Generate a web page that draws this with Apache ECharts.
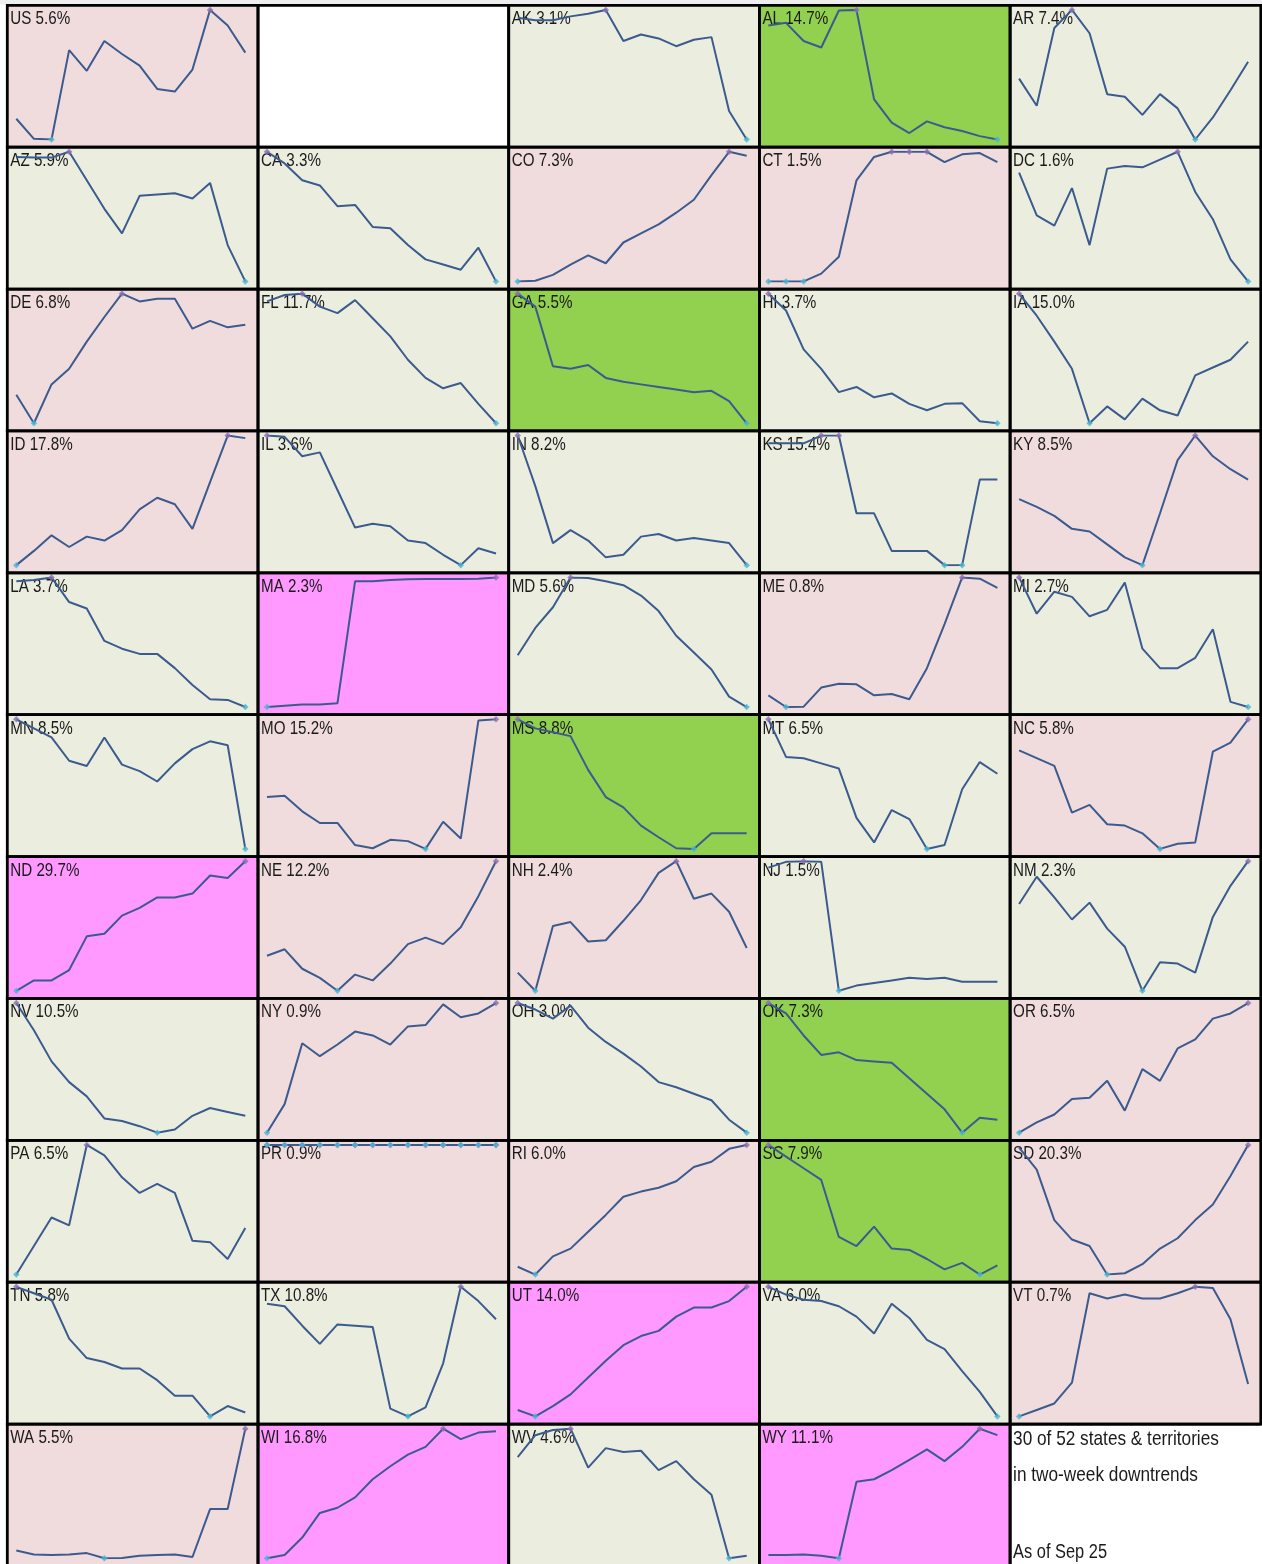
<!DOCTYPE html>
<html><head><meta charset="utf-8">
<script src="https://cdn.jsdelivr.net/npm/echarts@6/dist/echarts.min.js"></script>
<style>html,body{margin:0;padding:0;background:#fff}#c{width:1262px;height:1564px}</style>
</head><body><div id="c"></div><script>
// 14 daily points, two-week window ending Sep 25 (values normalised to each state's own range)
const days = ['Sep 12','Sep 13','Sep 14','Sep 15','Sep 16','Sep 17','Sep 18','Sep 19','Sep 20','Sep 21','Sep 22','Sep 23','Sep 24','Sep 25'];

const US = [16, 0.5, 0, 69, 53, 76, 66, 57, 39, 37, 54, 100, 88, 67];
const AK = [94, 92, 92, 95, 97, 100, 76, 81, 78, 72, 77, 79, 22, 0];
const AL = [88, 90, 76, 71, 99.5, 100, 31, 13, 5, 14, 9.5, 6.5, 2.6, 0];
const AR = [47, 26, 86, 100, 82, 35, 33, 19, 35, 24, 0, 17, 38, 60];
const AZ = [96, 95.5, 95.5, 100, 78, 56, 37, 66, 67, 68, 64, 76, 28, 0];
const CA = [100, 91, 78, 74, 58, 59, 42, 41, 28, 17, 13, 9, 26, 0];
const CO = [0, 0.5, 5, 13, 20, 14, 30, 37, 44, 53, 63, 82, 100, 97];
const CT = [0, 0, 0, 6, 19, 78, 96, 100, 100, 100, 92, 98, 99, 92];
const DC = [84, 51, 43, 72, 28, 87, 89, 88, 94, 100, 69, 48, 17, 0];
const DE = [22, 0, 30, 42, 63, 82, 100, 94, 96, 96, 73, 79, 74, 76];
const FL = [94, 99, 100, 90, 85, 95, 81, 67, 49, 35, 27, 31, 15, 0];
const GA = [100, 90, 44, 42, 45, 35, 32, 30, 28, 26, 24, 25, 17, 0];
const HI = [100, 87, 57, 42, 24, 28, 20, 23, 15, 10, 15, 15.5, 1.5, 0];
const IA = [100, 83, 63, 42, 0, 13, 3, 19, 10, 6, 37, 43, 49, 63];
const ID = [0, 11, 23, 14, 22, 19, 27, 43, 52, 47, 28, 64, 100, 98];
const IL = [100, 99, 84, 87, 58, 29, 32, 30, 19, 17, 8, 0, 13, 9];
const IN = [100, 61, 17, 27, 19, 6, 8, 22, 24, 19, 21, 19, 17, 0];
const KS = [94, 94, 94, 100, 100, 40, 40, 11, 11, 11, 0, 0, 66, 66];
const KY = [51, 45, 38, 28, 26, 16, 6, 0, 40, 81, 100, 84, 74, 66];
const LA = [97, 98, 100, 81, 76, 51, 45, 41, 41, 30, 17, 6, 5.5, 0];
const MA = [0, 1, 2, 2, 3, 97, 97, 98, 98.5, 98.7, 98.7, 98.7, 99, 100];
const MD = [40, 61, 77, 100, 99.5, 97, 94, 86, 74, 55, 42, 29, 8, 0];
const ME = [9, 0, 0.3, 15, 18, 17.5, 9, 10, 6, 30, 64, 100, 99, 92];
const MI = [100, 72, 89, 85, 70, 75, 96, 45, 30, 30, 38, 60, 4, 0];
const MN = [100, 93, 86, 68, 64, 86, 65, 60, 52, 66, 77, 83, 80, 0];
const MO = [40, 41, 29, 20, 20, 3, 0.5, 7, 6, 0, 21, 8, 99, 100];
const MS = [100, 93, 90, 87, 61, 40, 32, 18, 9, 0.5, 0, 12, 12, 12];
const MT = [100, 71, 70, 66, 62, 24, 5, 30, 23, 0, 3, 46, 67, 58];
const NC = [76, 70, 64, 28, 34, 19, 18, 12, 0, 4, 5, 75, 82, 100];
const ND = [0, 8, 8, 16, 42, 44, 58, 64, 72, 72, 75, 89, 87, 100];
const NE = [27, 32, 17, 10, 0, 12.5, 8, 21, 36, 41, 36, 49, 73, 100];
const NH = [14, 0, 50, 53, 38, 39, 54, 70, 91, 100, 71, 75, 61, 33];
const NJ = [95, 99.5, 100, 99.5, 0, 4, 6, 8, 10, 9, 10, 7, 7, 7];
const NM = [67, 88, 72, 55, 68, 48, 34, 0, 22, 21, 14, 57, 81, 100];
const NV = [100, 79, 55, 39, 28, 11, 9, 5, 0, 2.5, 13, 19, 16, 13];
const NY = [0, 22, 69, 59, 68, 78, 75, 68, 82, 83, 99, 89, 92, 100];
const OH = [100, 95, 88, 98, 81, 70, 61, 51, 39, 35, 30, 25, 10, 0];
const OK = [100, 92, 75, 60, 62, 56, 55, 54, 42, 30, 18, 0, 11.5, 10];
const OR = [0, 8, 14, 26, 27, 40, 17, 49, 40, 65, 72, 88, 92, 100];
const PA = [0, 22, 44, 38, 100, 92, 75, 63, 70, 63, 26, 25, 12, 36];
const PR = [0.9, 0.9, 0.9, 0.9, 0.9, 0.9, 0.9, 0.9, 0.9, 0.9, 0.9, 0.9, 0.9, 0.9];
const RI = [6, 0, 14, 20, 33, 46, 60, 64, 67, 72, 83, 87, 97, 100];
const SC = [100, 91, 82, 73, 29, 22, 37, 20, 19, 12, 4, 9, 0, 7];
const SD = [98, 81, 42, 27, 22, 0, 1, 8, 20, 28, 42, 54, 76, 100];
const TN = [100, 95, 90, 60, 45, 42, 37, 37, 28, 16, 16, 0, 8, 3];
const TX = [87, 85, 70, 56, 71, 70, 69, 6, 0, 7, 41, 100, 89, 75];
const UT = [5, 0, 8, 17, 30, 43, 55, 62, 66, 77, 84, 84, 89, 100];
const VA = [100, 94, 90, 89, 85, 77, 64, 87, 76, 59, 52, 35, 19, 0];
const VT = [0, 5, 10, 26, 95, 91, 94, 91, 91, 95, 100, 99, 75, 25];
const WA = [6, 3, 2.5, 3, 4, 0, 0.3, 2, 2.5, 3, 1, 38, 38, 100];
const WI = [0, 2.5, 16, 35, 39, 47, 61, 71, 80, 86, 100, 92, 97, 98];
const WV = [78, 95, 99, 100, 70, 85, 82, 83, 68, 75, 61, 49, 0, 2];
const WY = [2.5, 2.5, 3, 2, 0, 59, 61, 68, 76, 84, 75, 86, 100, 95];

// grid order (5 columns); '' = empty cell, 'NOTE' = caption cell
const order = ['US','','AK','AL','AR','AZ','CA','CO','CT','DC','DE','FL','GA','HI','IA','ID','IL','IN','KS','KY',
  'LA','MA','MD','ME','MI','MN','MO','MS','MT','NC','ND','NE','NH','NJ','NM','NV','NY','OH','OK','OR',
  'PA','PR','RI','SC','SD','TN','TX','UT','VA','VT','WA','WI','WV','WY','NOTE'];
const rates = ['5.6%','','3.1%','14.7%','7.4%','5.9%','3.3%','7.3%','1.5%','1.6%','6.8%','11.7%','5.5%','3.7%','15.0%',
  '17.8%','3.6%','8.2%','15.4%','8.5%','3.7%','2.3%','5.6%','0.8%','2.7%','8.5%','15.2%','8.8%','6.5%','5.8%',
  '29.7%','12.2%','2.4%','1.5%','2.3%','10.5%','0.9%','3.0%','7.3%','6.5%','6.5%','0.9%','6.0%','7.9%','20.3%',
  '5.8%','10.8%','14.0%','6.0%','0.7%','5.5%','16.8%','4.6%','11.1%',''];
// r = rising, R = rising fast, f = falling, F = falling fast
const trend = ['r','','f','F','f','f','f','r','r','f','r','f','F','f','f','r','f','f','f','r',
  'f','R','f','r','f','f','r','F','f','r','R','r','r','f','f','f','r','f','F','r',
  'f','r','r','F','r','f','f','R','f','r','r','R','f','R',''];
const noteLines = ['30 of 52 states & territories', 'in two-week downtrends'];
const asOf = 'As of Sep 25';

const values = {US,AK,AL,AR,AZ,CA,CO,CT,DC,DE,FL,GA,HI,IA,ID,IL,IN,KS,KY,LA,MA,MD,ME,MI,MN,MO,MS,MT,NC,
  ND,NE,NH,NJ,NM,NV,NY,OH,OK,OR,PA,PR,RI,SC,SD,TN,TX,UT,VA,VT,WA,WI,WV,WY};

const fills = {r:'#f0dcdc', R:'#ff99ff', f:'#ebeedf', F:'#92d050', '':'#ffffff'};
const FONT = "'Liberation Sans','Arimo',Arial,sans-serif";
const NARROW = 0.82;
const X0 = 7.3, Y0 = 5.3, CW = 250.7, CH = 141.88;

const grids = [], xAxes = [], yAxes = [], series = [], bg = [], borders = [], texts = [];
bg.push({type:'rect', shape:{x:0, y:0, width:1262, height:4.5}, style:{fill:'#eeeeee'}, z:0});

function label(x, y, str, size, z) {
  return {type:'text', x:x, y:y, scaleX:NARROW, z:z,
    style:{text:str, font:size + 'px ' + FONT, fill:'#1a1a1a', textVerticalAlign:'middle'}};
}

order.forEach((code, k) => {
  const col = k % 5, row = Math.floor(k / 5);
  const cx = X0 + col * CW, cy = Y0 + row * CH;
  if (code === 'NOTE') {
    borders.push({type:'line', shape:{x1:cx, y1:cy, x2:cx, y2:cy + CH}, style:{stroke:'#000', lineWidth:2.8}, z:10});
    borders.push({type:'line', shape:{x1:cx, y1:cy, x2:cx + CW, y2:cy}, style:{stroke:'#000', lineWidth:2.8}, z:10});
    texts.push(label(cx + 3, cy + 15.5, noteLines[0], 21, 4));
    texts.push(label(cx + 3, cy + 51.5, noteLines[1], 21, 4));
    texts.push(label(cx + 3, cy + 128, asOf, 20, 4));
    return;
  }
  bg.push({type:'rect', shape:{x:cx, y:cy, width:CW, height:CH}, style:{fill:fills[trend[k]]}, z:0});
  borders.push({type:'rect', shape:{x:cx, y:cy, width:CW, height:CH}, style:{fill:'none', stroke:'#000', lineWidth:2.8}, z:10});
  if (!code) return;
  texts.push(label(cx + 3, cy + 13.9, code + ' ' + rates[k], 18.5, 1));
  const gi = grids.length;
  grids.push({left:cx + 9, top:cy + 4.6, width:229, height:129.6});
  xAxes.push({gridIndex:gi, type:'category', data:days, boundaryGap:false, show:false});
  yAxes.push({gridIndex:gi, type:'value', show:false, scale:true,
    min: e => (e.min === e.max ? e.min - 1 : e.min), max: e => e.max});
  const v = values[code];
  const mx = Math.max(...v), mn = Math.min(...v);
  series.push({type:'line', xAxisIndex:gi, yAxisIndex:gi, data:v, symbol:'none', z:3,
    lineStyle:{color:'#3b5b8e', width:2}, silent:true});
  series.push({type:'scatter', xAxisIndex:gi, yAxisIndex:gi, z:4, symbol:'diamond', symbolSize:6.5,
    itemStyle:{color:'#8c6db2'}, silent:true,
    data:v.map((d, i) => d === mx ? [i, d] : null).filter(Boolean)});
  series.push({type:'scatter', xAxisIndex:gi, yAxisIndex:gi, z:5, symbol:'diamond', symbolSize:6.5,
    itemStyle:{color:'#47b6d3'}, silent:true,
    data:v.map((d, i) => d === mn ? [i, d] : null).filter(Boolean)});
});

const chart = echarts.init(document.getElementById('c'), null, {renderer:'canvas'});
chart.setOption({
  animation:false,
  backgroundColor:'#ffffff',
  grid:grids, xAxis:xAxes, yAxis:yAxes, series:series,
  graphic:{elements:[...bg, ...texts, ...borders]}
});
</script></body></html>
